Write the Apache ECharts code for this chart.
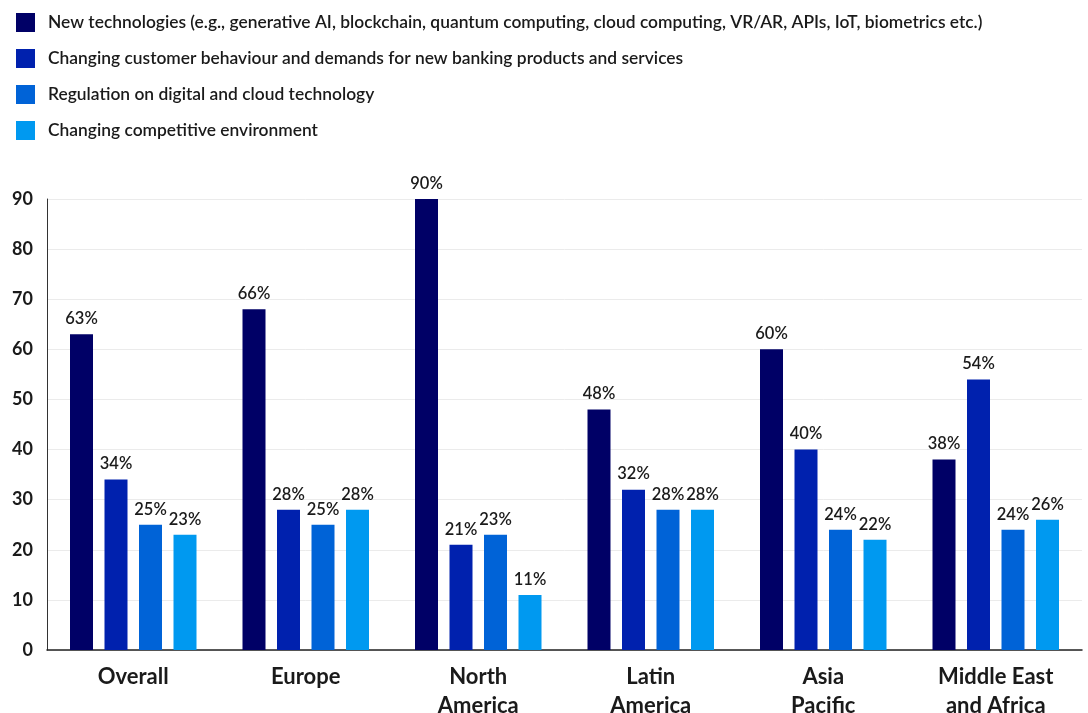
<!DOCTYPE html>
<html>
<head>
<meta charset="utf-8">
<script src="https://cdn.jsdelivr.net/npm/echarts@6/dist/echarts.min.js"></script>
<style>
html,body{margin:0;padding:0;background:#fff;}
#chart{width:1088px;height:713px;}
</style>
</head>
<body>
<div id="chart"></div>
<script>
const categories = ["Overall", "Europe", "North\nAmerica", "Latin\nAmerica", "Asia\nPacific", "Middle East\nand Africa"];
const seriesNames = [
  "New technologies (e.g., generative AI, blockchain, quantum computing, cloud computing, VR/AR, APIs, IoT, biometrics etc.)",
  "Changing customer behaviour and demands for new banking products and services",
  "Regulation on digital and cloud technology",
  "Changing competitive environment"
];
// bar heights as drawn
const newTech      = [63, 68, 90, 48, 60, 38];
const customer     = [34, 28, 21, 32, 40, 54];
const regulation   = [25, 25, 23, 28, 24, 24];
const competitive  = [23, 28, 11, 28, 22, 26];
// labels as printed
const newTechLabels     = ["63%", "66%", "90%", "48%", "60%", "38%"];
const customerLabels    = ["34%", "28%", "21%", "32%", "40%", "54%"];
const regulationLabels  = ["25%", "25%", "23%", "28%", "24%", "24%"];
const competitiveLabels = ["23%", "28%", "11%", "28%", "22%", "26%"];
const yTicks = [0, 10, 20, 30, 40, 50, 60, 70, 80, 90];

const colors = ["#000066", "#0021AE", "#0063D7", "#0099F0"];
const values = [newTech, customer, regulation, competitive];
const labels = [newTechLabels, customerLabels, regulationLabels, competitiveLabels];
const font = "Lato";

const chart = echarts.init(document.getElementById('chart'), null, {renderer: 'canvas'});
chart.setOption({
  animation: false,
  color: colors,
  textStyle: {fontFamily: font},
  legend: {
    orient: 'vertical',
    left: 11, top: 8,
    icon: 'rect',
    itemWidth: 19, itemHeight: 19,
    itemGap: 17,
    selectedMode: false,
    textStyle: {fontFamily: font, fontSize: 17.4, fontWeight: 600, color: '#1a1a1a', padding: [0,0,0,8]},
    data: seriesNames
  },
  grid: {left: 47, right: 6, top: 199, bottom: 63, containLabel: false, outerBoundsMode: 'none'},
  xAxis: {
    type: 'category',
    data: categories,
    axisLine: {lineStyle: {color: '#222', width: 1.5}},
    axisTick: {show: false},
    axisLabel: {fontFamily: font, fontSize: 22, fontWeight: 'bold', color: '#1a1a1a', lineHeight: 29, margin: 12}
  },
  yAxis: {
    type: 'value',
    min: 0, max: 90, interval: 10,
    axisLine: {show: true, lineStyle: {color: '#333', width: 1}},
    axisTick: {show: false},
    splitLine: {lineStyle: {color: '#ebebeb', width: 1}},
    axisLabel: {fontFamily: font, fontSize: 18, fontWeight: 'bold', color: '#1a1a1a', margin: 14,
      padding: [8, 0, 0, 0],
      formatter: v => yTicks.includes(v) ? String(v) : ''}
  },
  series: values.map((vals, i) => ({
    name: seriesNames[i],
    type: 'bar',
    data: vals,
    barWidth: 23,
    barGap: '50%',
    itemStyle: {color: colors[i]},
    label: {
      show: true, position: 'top', distance: 7,
      fontFamily: font, fontSize: 16.5, fontWeight: 600, color: '#1a1a1a',
      formatter: p => labels[i][p.dataIndex]
    }
  }))
});
</script>
</body>
</html>
